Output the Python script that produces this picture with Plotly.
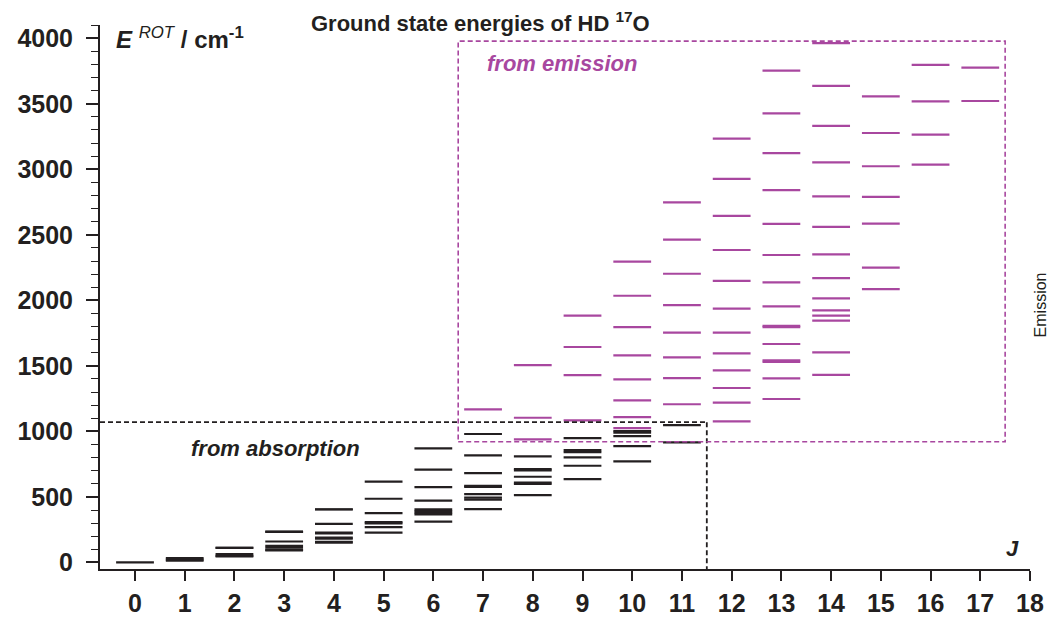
import plotly.graph_objects as go

# Rotational quantum number J for each column of levels
j_values = list(range(18))

# Ground-state term values (cm^-1) derived from absorption spectra, per J
absorption_energies = [
    [0],
    [14, 22, 33],
    [46, 50, 64, 111, 112],
    [92, 96, 112, 127, 160, 234, 235],
    [151, 158, 182, 190, 222, 227, 295, 404, 406],
    [227, 270, 298, 308, 376, 486, 616],
    [311, 366, 379, 392, 405, 471, 575, 708, 870],
    [407, 479, 494, 521, 576, 584, 682, 817, 980],
    [514, 600, 610, 654, 702, 712, 809],
    [636, 738, 802, 842, 857, 949],
    [771, 888, 964, 990, 1003],
    [916, 1048],
    [], [], [], [], [], [],
]

# Ground-state term values (cm^-1) derived from emission spectra, per J
emission_energies = [
    [], [], [], [], [], [], [],
    [1168],
    [939, 1104, 1506],
    [1084, 1430, 1644, 1883],
    [1025, 1109, 1237, 1397, 1580, 1796, 2035, 2295],
    [1207, 1407, 1565, 1753, 1964, 2203, 2464, 2748],
    [1076, 1219, 1331, 1466, 1595, 1753, 1937, 2148, 2384, 2644, 2927, 3234],
    [1247, 1405, 1530, 1542, 1667, 1796, 1806, 1954, 2137, 2346, 2583, 2841,
     3123, 3427, 3753],
    [1432, 1603, 1845, 1883, 1924, 2015, 2170, 2351, 2561, 2794, 3052, 3332,
     3636, 3962],
    [2085, 2250, 2585, 2789, 3023, 3277, 3557],
    [3036, 3265, 3518, 3796],
    [3521, 3776],
]

# Limits of the two data regions (J, cm^-1)
absorption_j_max = 11.5
absorption_e_max = 1070
emission_j_range = [6.5, 17.5]
emission_e_range = [921, 3978]

x_tick_values = list(range(19))
y_tick_values = [0, 500, 1000, 1500, 2000, 2500, 3000, 3500, 4000]

INK = "#231f20"
PURPLE = "#a8479f"
HALF = 0.38
FONT = "Liberation Sans, Arial, sans-serif"


def level_segments(energies):
    xs, ys = [], []
    for j, levels in zip(j_values, energies):
        for e in levels:
            xs += [j - HALF, j + HALF, None]
            ys += [e, e, None]
    return xs, ys


fig = go.Figure()

ax, ay = level_segments(absorption_energies)
fig.add_trace(go.Scatter(x=ax, y=ay, mode="lines",
                         line=dict(color=INK, width=2.2),
                         hoverinfo="skip", showlegend=False))
ex, ey = level_segments(emission_energies)
fig.add_trace(go.Scatter(x=ex, y=ey, mode="lines",
                         line=dict(color=PURPLE, width=2.2),
                         hoverinfo="skip", showlegend=False))

x_min, x_max = -0.704, 18
y_min, y_max = -50, 4101

# Absorption region outline
fig.add_shape(type="line", x0=x_min, x1=absorption_j_max,
              y0=absorption_e_max, y1=absorption_e_max,
              line=dict(color=INK, width=1.8, dash="5px,3px"))
fig.add_shape(type="line", x0=absorption_j_max, x1=absorption_j_max,
              y0=absorption_e_max, y1=y_min,
              line=dict(color=INK, width=1.8, dash="5px,3px"))
# Emission region outline
fig.add_shape(type="rect", x0=emission_j_range[0], x1=emission_j_range[1],
              y0=emission_e_range[0], y1=emission_e_range[1],
              line=dict(color=PURPLE, width=1.6, dash="5px,3px"))

fig.add_annotation(x=0.409, y=1.005, xref="paper", yref="paper",
                   xanchor="center", yanchor="middle",
                   text="<b>Ground state energies of HD <sup>17</sup>O</b>",
                   showarrow=False, font=dict(size=22, color=INK, family=FONT))
fig.add_annotation(x=-0.42, y=4000, xref="x", yref="y", xanchor="left",
                   text="<b><i>E</i></b> <sup><i>ROT</i></sup><b> / cm<sup>-1</sup></b>",
                   showarrow=False, font=dict(size=24, color=INK, family=FONT))
fig.add_annotation(x=2.82, y=873, xref="x", yref="y",
                   text="<b><i>from absorption</i></b>",
                   showarrow=False, font=dict(size=22, color=INK, family=FONT))
fig.add_annotation(x=8.59, y=3810, xref="x", yref="y",
                   text="<b><i>from emission</i></b>",
                   showarrow=False, font=dict(size=22, color=PURPLE, family=FONT))
fig.add_annotation(x=17.65, y=110, xref="x", yref="y",
                   text="<b><i>J</i></b>",
                   showarrow=False, font=dict(size=22, color=INK, family=FONT))
fig.add_annotation(x=1.011, y=0.485, xref="paper", yref="paper", textangle=-90,
                   xanchor="center", yanchor="middle",
                   text="Emission",
                   showarrow=False, font=dict(size=16, color=INK, family=FONT))

fig.update_xaxes(range=[x_min, x_max], showgrid=False, zeroline=False,
                 automargin=False,
                 showline=True, linecolor=INK, linewidth=2,
                 ticks="outside", ticklen=10, tickwidth=1.6, tickcolor=INK,
                 tickvals=x_tick_values, ticktext=[str(v) for v in x_tick_values],
                 tickfont=dict(size=25, color=INK, family=FONT, weight="bold"),
                 ticklabelstandoff=1)
fig.update_yaxes(range=[y_min, y_max], showgrid=False, zeroline=False,
                 automargin=False,
                 showline=True, linecolor=INK, linewidth=2,
                 ticks="outside", ticklen=12, tickwidth=1.6, tickcolor=INK,
                 tickvals=y_tick_values, ticktext=[str(v) for v in y_tick_values],
                 tickfont=dict(size=25, color=INK, family=FONT, weight="bold"),
                 ticklabelstandoff=8,
                 minor=dict(dtick=100, tick0=0, ticks="outside", ticklen=7,
                            tickwidth=1.4, tickcolor=INK))

fig.update_layout(width=1050, height=618,
                  margin=dict(l=100, r=20, t=25, b=49),
                  plot_bgcolor="white", paper_bgcolor="white")

fig.write_html("out.html")
